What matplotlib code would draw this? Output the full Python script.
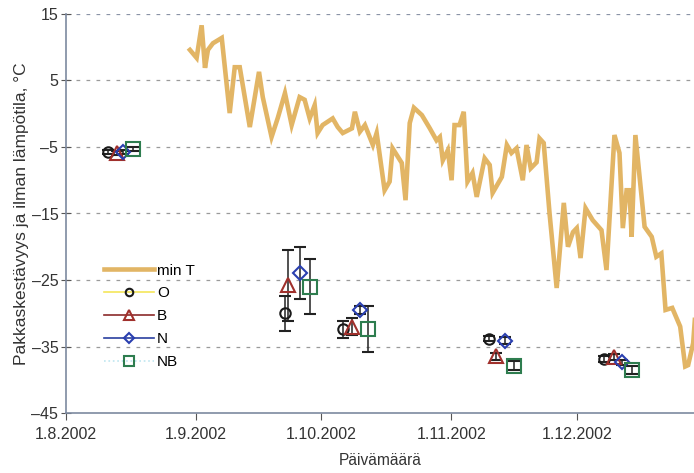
import matplotlib.pyplot as plt
from matplotlib.lines import Line2D
import numpy as np

plt.rcParams['font.family'] = ['Liberation Sans', 'DejaVu Sans']

# min T, days counted from 1.8.2002
t_days = [29.6, 31.2, 32.4, 33.2, 33.9, 35.1, 37.2, 39.1, 40.3, 41.5, 43.9, 46.1, 47.0,
          49.1, 50.6, 52.3, 53.9, 55.8, 57.0, 58.2, 59.4, 60.1, 61.3, 63.7, 64.9, 66.1,
          68.3, 69.0, 70.2, 71.4, 73.3, 74.2, 76.1, 77.3, 78.0, 80.2, 81.1, 82.1, 83.1,
          85.0, 86.9, 88.5, 89.3, 90.0, 91.2, 92.1, 92.8, 94.0, 95.0, 95.9, 97.1, 98.1,
          100.0, 101.2, 101.9, 104.1, 105.3, 106.4, 107.6, 109.1, 110.0, 111.0, 112.4,
          113.1, 114.1, 115.5, 117.2, 118.9, 119.9, 121.1, 122.0, 122.9, 124.1, 125.8,
          127.9, 129.1, 131.0, 132.2, 133.0, 133.9, 134.6, 135.1, 136.0, 138.2, 139.9,
          141.0, 142.2, 143.2, 144.8, 146.7, 147.9, 148.6, 149.8, 150.2]
t_min = [9.6, 8.4, 13.3, 6.9, 9.6, 10.6, 11.4, 0.1, 7.0, 7.0, -2.0, 6.3, 2.5,
         -3.5, -0.6, 3.1, -1.7, 2.5, 2.1, -0.7, 1.3, -2.9, -1.7, -0.7, -2.0, -2.9,
         -2.2, 0.3, -2.7, -1.7, -4.7, -2.9, -11.5, -10.2, -5.2, -7.4, -13.0, -1.4, 0.9,
         -0.2, -2.2, -4.0, -3.5, -7.0, -5.5, -10.0, -1.7, -1.7, 0.3, -10.2, -8.9, -12.5,
         -6.7, -7.7, -11.9, -9.5, -4.7, -5.9, -5.2, -10.0, -4.7, -8.2, -7.3,
         -3.7, -4.4, -15.0, -26.2, -13.4, -20.0, -17.8, -17.2, -21.7, -14.2, -16.0,
         -17.5, -23.5, -3.2, -5.9, -17.2, -11.5, -11.5, -18.5, -3.2, -17.0, -18.5,
         -21.5, -21.0, -29.5, -29.2, -32.0, -38.0, -37.8, -34.5, -31.0]

# frost hardiness samples: day, mean, error
o_days = [10.0, 52.3, 66.2, 101.0, 128.6]
o_val = [-5.8, -30.0, -32.4, -33.8, -36.9]
o_err = [0.3, 2.6, 1.3, 0.4, 0.4]

b_days = [12.2, 53.0, 68.2, 102.8, 131.0]
b_val = [-5.9, -25.8, -32.0, -36.5, -36.6]
b_err = [0.3, 5.3, 1.3, 0.5, 0.5]

n_days = [13.6, 56.0, 70.3, 104.8, 132.9]
n_val = [-5.7, -24.0, -29.5, -34.1, -37.4]
n_err = [0.3, 3.9, 0.6, 0.5, 0.4]

nb_days = [16.0, 58.2, 72.1, 106.9, 135.2]
nb_val = [-5.3, -26.0, -32.4, -37.9, -38.6]
nb_err = [0.3, 4.1, 3.5, 0.7, 0.6]

tick_days = [0, 31, 61, 92, 122]
tick_labels = ['1.8.2002', '1.9.2002', '1.10.2002', '1.11.2002', '1.12.2002']
y_ticks = [15, 5, -5, -15, -25, -35, -45]

fig = plt.figure(figsize=(6.94, 4.73), dpi=100)
ax = fig.add_axes([66 / 694, 1 - 413 / 473, 628 / 694, 399 / 473])

tan = '#e2b565'
ax.plot(t_days, t_min, color=tan, lw=3.3, solid_joinstyle='miter', zorder=2)

series = [
    ('O', o_days, o_val, o_err, 'o', '#1a1a1a', '#f5e65a', '-', 7.5),
    ('B', b_days, b_val, b_err, '^', '#a0302c', '#8b2a2a', '-', 9.5),
    ('N', n_days, n_val, n_err, 'D', '#2a3fb0', '#2a3fa0', '-', 7.5),
    ('NB', nb_days, nb_val, nb_err, 's', '#2e7d4f', '#bfe6f0', ':', 9.5),
]
for name, d, v, e, m, mc, lc, ls, ms in series:
    ax.errorbar(d, v, yerr=e, fmt=m, mfc='none', mec=mc, mew=1.5, ms=ms,
                ecolor='#222222', elinewidth=1.1, capsize=4.5, capthick=1.1, zorder=3)

handles = [Line2D([], [], color=tan, lw=3.3)]
for name, d, v, e, m, mc, lc, ls, ms in series:
    handles.append(Line2D([], [], color=lc, ls=ls, lw=1.2, marker=m, mfc='none',
                          mec=mc, mew=1.5, ms=ms * 0.72))
ax.legend(handles, ['min T', 'O', 'B', 'N', 'NB'], loc='upper left',
          bbox_to_anchor=(0.05, 0.39), frameon=False, fontsize=11,
          handlelength=3.3, handletextpad=0.2, labelspacing=0.58, borderaxespad=0)

ax.set_xlim(0, 150)
ax.set_ylim(-45, 15)
ax.set_xticks(tick_days)
ax.set_xticklabels(tick_labels)
ax.set_yticks(y_ticks)
ax.set_yticklabels([str(t).replace('-', '\u2013') for t in y_ticks])
ax.tick_params(axis='x', direction='out', length=5, color='#555555', labelsize=11.5,
               labelcolor='#333333', pad=5)
ax.tick_params(axis='y', direction='inout', length=7, color='#555555', labelsize=11.5,
               labelcolor='#333333', pad=2)

for y in y_ticks[:-1]:
    ax.axhline(y, color='#8a93a6' if y == 15 else '#9a9a9a', lw=0.9,
               ls=(0, (3, 5)), zorder=1)

for s in ['top', 'right']:
    ax.spines[s].set_visible(False)
ax.spines['left'].set_color('#7d8aa0')
ax.spines['bottom'].set_color('#7d8aa0')
ax.spines['left'].set_linewidth(1.2)
ax.spines['bottom'].set_linewidth(1.2)

ax.set_xlabel('Päivämäärä', fontsize=11.2, color='#333333', labelpad=8)
ax.set_ylabel('Pakkaskestävyys ja ilman lämpötila, °C', fontsize=12.5,
              color='#333333', labelpad=2)

fig.savefig('out.png', dpi=100)
